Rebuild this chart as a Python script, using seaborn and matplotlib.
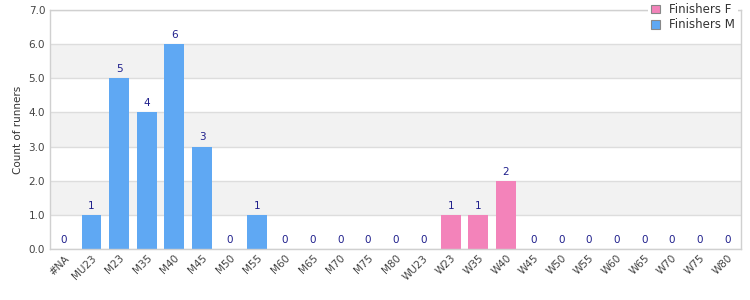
import matplotlib
matplotlib.use("Agg")
import matplotlib.pyplot as plt
import seaborn as sns
import pandas as pd
from matplotlib.patches import Patch

categories = ["#NA", "MU23", "M23", "M35", "M40", "M45", "M50", "M55", "M60", "M65",
              "M70", "M75", "M80", "WU23", "W23", "W35", "W40", "W45", "W50", "W55",
              "W60", "W65", "W70", "W75", "W80"]
counts = [0, 1, 5, 4, 6, 3, 0, 1, 0, 0, 0, 0, 0, 0, 1, 1, 2, 0, 0, 0, 0, 0, 0, 0, 0]
series = ["Finishers M"] * 13 + ["Finishers F"] * 12
series_order = ["Finishers F", "Finishers M"]
colors = {"Finishers F": "#f383ba", "Finishers M": "#5fa8f3"}
yticks = [0, 1, 2, 3, 4, 5, 6, 7]

df = pd.DataFrame({"category": categories, "count": counts, "series": series})

sns.set_style("white")
plt.rcParams["font.family"] = ["DejaVu Sans"]

fig = plt.figure(figsize=(7.5, 3), dpi=100)
ax = fig.add_axes([50/750, 1-249/300, (741-50)/750, (249-10)/300])

for lo in (1, 3, 5):
    ax.axhspan(lo, lo + 1, color="#f2f2f2", zorder=0, lw=0)
for y in yticks:
    ax.axhline(y, color="#dddddd", lw=1, zorder=0.5)

sns.barplot(data=df, x="category", y="count", hue="series", hue_order=series_order,
            order=categories, palette=colors, dodge=False, width=0.72, ax=ax,
            legend=False, zorder=2, saturation=1, linewidth=0, edgecolor="none")

for cont in ax.containers:
    ax.bar_label(cont, fmt="%d", padding=3, color="#1f1f8c", fontsize=7.5)

ax.set_ylim(0, 7)
ax.set_xlim(-0.5, len(categories) - 0.5)
ax.set_yticks(yticks)
ax.set_yticklabels([f"{v:.1f}" for v in yticks])
ax.set_xlabel("")
ax.set_ylabel("Count of runners", fontsize=7.5, color="#333333")
ax.tick_params(axis="both", length=0, labelsize=7.5, labelcolor="#444444")
ax.tick_params(axis="x", pad=3)
for lbl in ax.get_xticklabels():
    lbl.set_rotation(45)
    lbl.set_ha("right")
    lbl.set_rotation_mode("anchor")
for s in ax.spines.values():
    s.set_color("#d0d0d0")
    s.set_linewidth(1)
    s.set_visible(True)

handles = [Patch(facecolor=colors[s], edgecolor="#888888", lw=0.8, label=s) for s in series_order]
leg = ax.legend(handles=handles, loc="upper right", bbox_to_anchor=(738/750, 1.0),
                bbox_transform=fig.transFigure, frameon=True, fontsize=8.5,
                handlelength=0.75, handleheight=0.75, handletextpad=0.8,
                borderpad=0.25, labelspacing=0.2, borderaxespad=0)
leg.get_frame().set_facecolor("white")
leg.get_frame().set_edgecolor("none")
leg.get_frame().set_alpha(1)
for t in leg.get_texts():
    t.set_color("#333333")

fig.savefig("out.png", dpi=100)
